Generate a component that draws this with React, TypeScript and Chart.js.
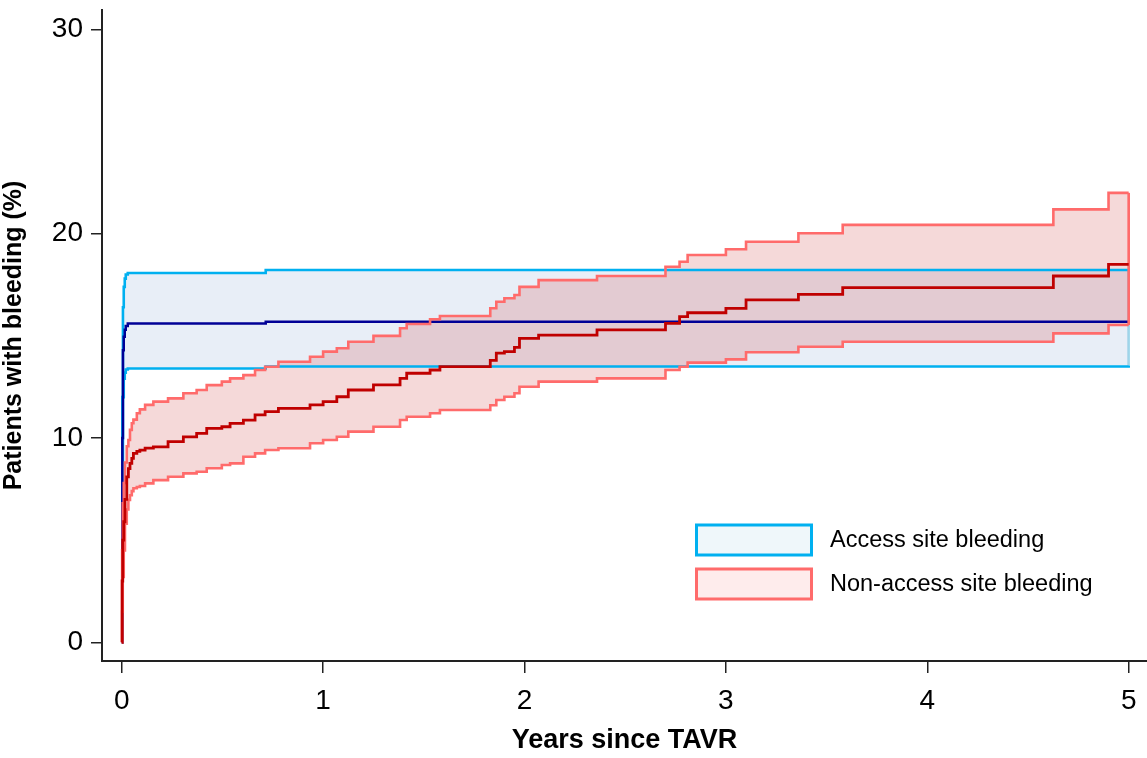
import React, { useEffect, useRef } from "react";
import { Chart, registerables } from "chart.js";

Chart.register(...registerables);

// ---------------- data ----------------
const xTicks = [0, 1, 2, 3, 4, 5];
const yTicks = [0, 10, 20, 30];

const accessLabel = "Access site bleeding";
const nonAccessLabel = "Non-access site bleeding";

// Access site bleeding (cumulative incidence, %, with 95% CI)
const accessTimes = [0, 0.003, 0.006, 0.01, 0.015, 0.02, 0.03, 0.715, 5.0];
const accessEst = [0, 10.0, 14.3, 14.96, 15.3, 15.48, 15.61, 15.69, 15.69];
const accessLow = [0, 8.0, 12.0, 12.9, 13.2, 13.35, 13.4, 13.5, 13.55];
const accessHigh = [0, 12.0, 16.4, 17.4, 17.8, 18.0, 18.08, 18.22, 18.22];

// Non-access site bleeding
const nonAccessTimes = [
  0, 0.002, 0.005, 0.01, 0.016, 0.025, 0.033, 0.041, 0.05, 0.058, 0.075, 0.09,
  0.116, 0.157, 0.23, 0.306, 0.372, 0.422, 0.497, 0.538, 0.604, 0.662, 0.712,
  0.778, 0.935, 1.0, 1.068, 1.125, 1.25, 1.382, 1.415, 1.531, 1.58, 1.83, 1.86,
  1.9, 1.95, 1.975, 2.07, 2.36, 2.7, 2.77, 2.81, 3.0, 3.1, 3.36, 3.58, 4.626,
  4.9, 5.0,
];
const nonAccessEst = [
  0, 3.0, 5.0, 5.9, 7.0, 8.1, 8.5, 8.76, 9.0, 9.25, 9.35, 9.41, 9.5, 9.57, 9.82,
  10.06, 10.23, 10.47, 10.55, 10.72, 10.88, 11.13, 11.29, 11.45, 11.62, 11.78,
  12.02, 12.35, 12.6, 12.92, 13.17, 13.33, 13.49, 13.8, 14.15, 14.23, 14.44,
  14.88, 15.04, 15.29, 15.61, 15.94, 16.13, 16.35, 16.76, 17.03, 17.36, 17.93,
  18.5, 18.5,
];
const nonAccessLow = [
  0, 1.5, 3.2, 4.5, 5.8, 6.5, 6.97, 7.2, 7.4, 7.54, 7.6, 7.65, 7.78, 7.94, 8.1,
  8.27, 8.35, 8.52, 8.68, 8.76, 9.08, 9.25, 9.41, 9.5, 9.74, 9.9, 10.06, 10.31,
  10.55, 10.88, 11.04, 11.21, 11.37, 11.6, 11.86, 12.02, 12.19, 12.51, 12.76,
  12.92, 13.33, 13.49, 13.69, 13.85, 14.2, 14.47, 14.71, 15.12, 15.53, 15.53,
];
const nonAccessHigh = [
  0, 4.5, 6.8, 7.8, 8.8, 9.6, 9.9, 10.4, 10.72, 10.9, 11.21, 11.4, 11.62, 11.78,
  11.94, 12.19, 12.35, 12.59, 12.76, 12.92, 13.08, 13.33, 13.49, 13.73, 13.98,
  14.23, 14.39, 14.71, 15.0, 15.37, 15.58, 15.81, 15.97, 16.35, 16.67, 16.84,
  17.0, 17.4, 17.73, 17.93, 18.38, 18.63, 18.96, 19.24, 19.61, 20.02, 20.43,
  21.19, 22.0, 22.0,
];

// ---------------- styles ----------------
const FONT = "'Liberation Sans', Arial, Helvetica, sans-serif";
const CYAN = "#00B0F0";
const NAVY = "#000096";
const PINK = "#FF6B6B";
const DARKRED = "#C00000";
const BLUE_FILL = "#E8EEF7";
const PINK_FILL = "rgba(210, 80, 80, 0.22)";
const AXIS = "#222222";

const pts = (xs: number[], ys: number[]) => xs.map((x, i) => ({ x, y: ys[i] }));
const last = (a: number[]) => a[a.length - 1];

const legendPlugin = {
  id: "customLegend",
  afterDraw(chart: any) {
    const ctx = chart.ctx as CanvasRenderingContext2D;
    const items = [
      { label: accessLabel, stroke: CYAN, fill: "#EFF7FA" },
      { label: nonAccessLabel, stroke: PINK, fill: "#FEECEC" },
    ];
    ctx.save();
    items.forEach((it, i) => {
      const bx = 696.5;
      const by = 525 + i * 44;
      ctx.fillStyle = it.fill;
      ctx.fillRect(bx, by, 115, 30);
      ctx.strokeStyle = it.stroke;
      ctx.lineWidth = 3;
      ctx.strokeRect(bx, by, 115, 30);
      ctx.fillStyle = "#000";
      ctx.font = `23.5px ${FONT}`;
      ctx.textBaseline = "middle";
      ctx.textAlign = "left";
      ctx.fillText(it.label, 830, by + 16);
    });
    ctx.restore();
  },
};

export default function App() {
  const ref = useRef<HTMLCanvasElement | null>(null);

  useEffect(() => {
    if (!ref.current) return;
    const lineBase = {
      showLine: true,
      stepped: "before" as const,
      pointRadius: 0,
      pointHoverRadius: 0,
      tension: 0,
      borderJoinStyle: "miter" as const,
    };
    const chart = new Chart(ref.current, {
      type: "scatter",
      data: {
        datasets: [
          {
            ...lineBase,
            label: nonAccessLabel + " estimate",
            data: pts(nonAccessTimes, nonAccessEst),
            borderColor: DARKRED,
            borderWidth: 2.8,
            fill: false,
            order: 0,
          },
          {
            ...lineBase,
            label: nonAccessLabel + " upper",
            data: pts(nonAccessTimes, nonAccessHigh),
            borderColor: PINK,
            borderWidth: 2.6,
            backgroundColor: PINK_FILL,
            fill: 2,
            order: 1,
          },
          {
            ...lineBase,
            label: nonAccessLabel + " lower",
            data: pts(nonAccessTimes, nonAccessLow),
            borderColor: PINK,
            borderWidth: 2.6,
            fill: false,
            order: 2,
          },
          {
            ...lineBase,
            stepped: false,
            label: nonAccessLabel + " edge",
            data: [
              { x: last(nonAccessTimes), y: last(nonAccessLow) },
              { x: last(nonAccessTimes), y: last(nonAccessHigh) },
            ],
            borderColor: PINK,
            borderWidth: 2.6,
            fill: false,
            order: 3,
          },
          {
            ...lineBase,
            label: accessLabel + " estimate",
            data: pts(accessTimes, accessEst),
            borderColor: NAVY,
            borderWidth: 2.5,
            fill: false,
            order: 4,
          },
          {
            ...lineBase,
            label: accessLabel + " upper",
            data: pts(accessTimes, accessHigh),
            borderColor: CYAN,
            borderWidth: 2.6,
            backgroundColor: BLUE_FILL,
            fill: 6,
            order: 5,
          },
          {
            ...lineBase,
            label: accessLabel + " lower",
            data: pts(accessTimes, accessLow),
            borderColor: CYAN,
            borderWidth: 2.6,
            fill: false,
            order: 6,
          },
          {
            ...lineBase,
            stepped: false,
            label: accessLabel + " edge",
            data: [
              { x: last(accessTimes), y: last(accessLow) },
              { x: last(accessTimes), y: last(accessHigh) },
            ],
            borderColor: "rgba(0,150,200,0.35)",
            borderWidth: 2.6,
            fill: false,
            order: 7,
          },
        ],
      },
      options: {
        responsive: false,
        animation: false,
        devicePixelRatio: 1,
        layout: { padding: { top: 10, left: 0, right: 0, bottom: 0 } },
        plugins: {
          legend: { display: false },
          tooltip: { enabled: false },
          filler: { drawTime: "beforeDatasetsDraw" },
        },
        scales: {
          x: {
            type: "linear",
            min: -0.098,
            max: 5.091,
            afterBuildTicks: (axis: any) => {
              axis.ticks = xTicks.map((v) => ({ value: v }));
            },
            afterFit: (axis: any) => {
              axis.height = 97;
              axis.paddingLeft = 0;
              axis.paddingRight = 0;
            },
            grid: {
              display: true,
              drawOnChartArea: false,
              drawTicks: true,
              tickLength: 12,
              color: AXIS,
              lineWidth: 1.5,
            },
            border: { display: true, color: AXIS, width: 2 },
            ticks: {
              color: "#000",
              font: { family: FONT, size: 28 },
              padding: 11,
              maxRotation: 0,
              autoSkip: false,
            },
            title: {
              display: true,
              text: "Years since TAVR",
              color: "#000",
              font: { family: FONT, size: 27, weight: "bold", lineHeight: 1 },
              padding: { top: 0, bottom: 4 },
            },
          },
          y: {
            type: "linear",
            min: -0.915,
            max: 30.95,
            afterBuildTicks: (axis: any) => {
              axis.ticks = yTicks.map((v) => ({ value: v }));
            },
            afterFit: (axis: any) => {
              axis.width = 102;
              axis.paddingTop = 0;
              axis.paddingBottom = 0;
            },
            grid: {
              display: true,
              drawOnChartArea: false,
              drawTicks: true,
              tickLength: 11,
              color: AXIS,
              lineWidth: 1.5,
            },
            border: { display: true, color: AXIS, width: 2 },
            ticks: {
              color: "#000",
              font: { family: FONT, size: 28 },
              padding: 8,
              autoSkip: false,
            },
            title: {
              display: true,
              text: "Patients with bleeding (%)",
              color: "#000",
              font: { family: FONT, size: 25, weight: "bold", lineHeight: 1 },
              padding: { top: 2, bottom: 0 },
            },
          },
        },
      },
      plugins: [legendPlugin],
    } as any);
    return () => chart.destroy();
  }, []);

  return (
    <div
      style={{
        position: "absolute",
        left: 0,
        top: 0,
        width: 1147,
        height: 758,
        background: "#fff",
      }}
    >
      <canvas ref={ref} width={1147} height={758} />
    </div>
  );
}
